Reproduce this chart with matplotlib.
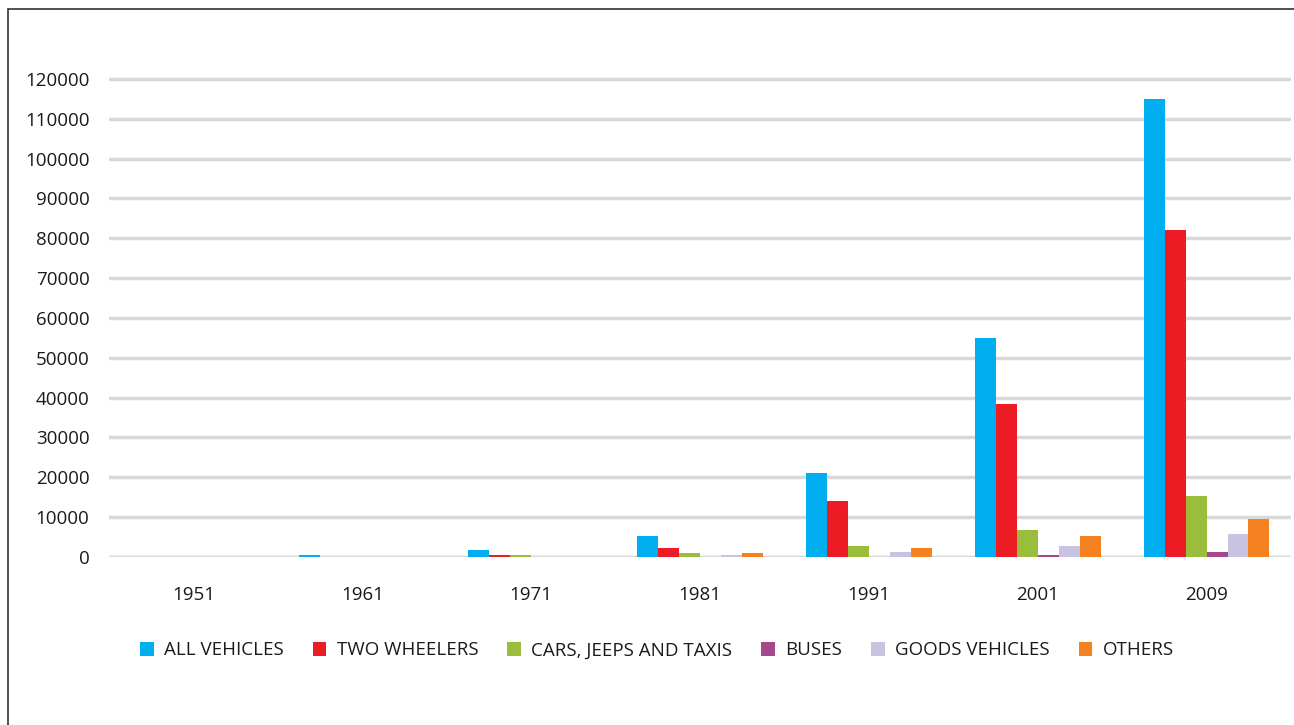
import numpy as np
import matplotlib
matplotlib.use("Agg")
import matplotlib.pyplot as plt
from matplotlib.patches import Rectangle

plt.rcParams['font.family'] = ['Open Sans', 'DejaVu Sans']

years = ['1951', '1961', '1971', '1981', '1991', '2001', '2009']
all_vehicles   = [0, 500, 1700, 5300, 21200, 55000, 115000]
two_wheelers   = [0, 0, 500, 2300, 14100, 38400, 82000]
cars_jeeps     = [0, 0, 500, 1000, 2800, 6800, 15300]
buses          = [0, 0, 0, 0, 0, 500, 1250]
goods_vehicles = [0, 0, 0, 500, 1250, 2700, 5800]
others         = [0, 0, 0, 1000, 2300, 5300, 9500]

series = [
    ('ALL VEHICLES', all_vehicles, '#00AEEF'),
    ('TWO WHEELERS', two_wheelers, '#ED1C24'),
    ('CARS, JEEPS AND TAXIS', cars_jeeps, '#9BBD3C'),
    ('BUSES', buses, '#A5478A'),
    ('GOODS VEHICLES', goods_vehicles, '#C7C3E0'),
    ('OTHERS', others, '#F58220'),
]

fig = plt.figure(figsize=(12.94, 7.25), dpi=100)
ax = fig.add_axes([0.0842, 0.2317, 0.9135, 0.665])

x = np.arange(len(years))
w = 0.124
for i, (name, vals, col) in enumerate(series):
    ax.bar(x + (i - 2.5) * w, vals, w, color=col, label=name, zorder=3)

ax.set_xlim(-0.5, 6.5)
ax.set_ylim(0, 121000)
ax.set_yticks(np.arange(0, 120001, 10000))
ax.set_xticks(x)
ax.set_xticklabels(years)
ax.grid(axis='y', color='#d9d9d9', linewidth=2.5, zorder=0)
ax.axhline(0, color='#d9d9d9', linewidth=2.5, zorder=2)
for s in ax.spines.values():
    s.set_visible(False)
ax.tick_params(axis='both', length=0, labelsize=13.5, colors='#1a1a1a')
ax.tick_params(axis='y', pad=14)
ax.tick_params(axis='x', pad=21)

leg = fig.legend(loc='center', bbox_to_anchor=(0.5077, 0.103), ncol=6, frameon=False,
                 fontsize=13.5, handlelength=0.72, handleheight=0.8,
                 handletextpad=0.55, columnspacing=1.55)
for t in leg.get_texts():
    t.set_color('#1a1a1a')

# outer frame
fig.patches.append(Rectangle((8 / 1294, -0.1), 1.2, 1 - 9 / 725 + 0.1,
                             transform=fig.transFigure, fill=False,
                             edgecolor='#333333', linewidth=1.2))

fig.savefig('out.png', dpi=100)
